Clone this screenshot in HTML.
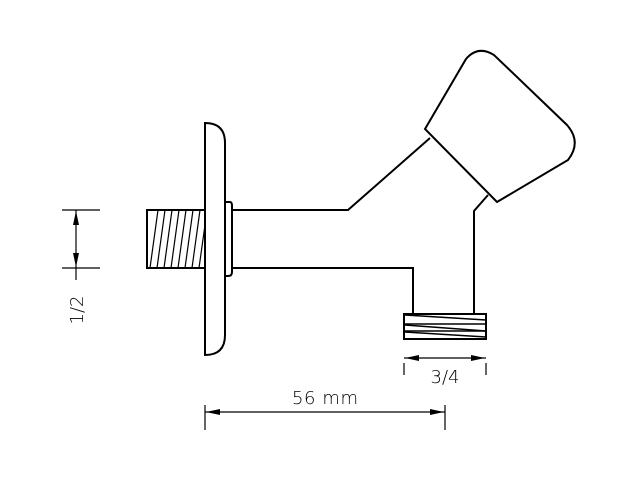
<!DOCTYPE html>
<html><head><meta charset="utf-8"><style>
html,body{margin:0;padding:0;background:#fff;width:640px;height:480px;overflow:hidden}
svg{display:block}
text{font-family:"DejaVu Sans","Liberation Sans",sans-serif;fill:#000;font-weight:300}
</style></head><body>
<svg width="640" height="480" viewBox="0 0 640 480" xmlns="http://www.w3.org/2000/svg">
<g fill="none" stroke="#000" stroke-width="2">
<rect x="147" y="210" width="58" height="58"/>
<g stroke-width="1.2">
<line x1="150" y1="268" x2="158" y2="210"/>
<line x1="157" y1="268" x2="165" y2="210"/>
<line x1="164" y1="268" x2="172" y2="210"/>
<line x1="171" y1="268" x2="179" y2="210"/>
<line x1="178" y1="268" x2="186" y2="210"/>
<line x1="185" y1="268" x2="193" y2="210"/>
<line x1="192" y1="268" x2="200" y2="210"/>
<line x1="199" y1="268" x2="205" y2="225"/>
</g>
<path d="M205,123 L205,355 Q225,355 225,335 L225,143 Q225,123 205,123 Z" fill="#fff"/>
<path d="M225,202 L230,202 Q232,202 232,206 L232,272 Q232,276 228,276 L225,276"/>
<polyline points="232,210 348,210 430,138"/>
<polyline points="232,268 413,268 413,314"/>
<polyline points="488,195 474,211 474,314"/>
<path d="M425,129 L466,59 Q478,45 494,55 L567,125 Q582,142 568,160 L497,202 Z" fill="#fff"/>
<rect x="404" y="314" width="82" height="25"/>
<g stroke-width="1.5">
<line x1="405" y1="315" x2="486" y2="320"/>
<line x1="405" y1="324" x2="486" y2="324"/>
<line x1="405" y1="325" x2="486" y2="331"/>
<line x1="405" y1="331" x2="486" y2="331"/>
<line x1="405" y1="332" x2="486" y2="337"/>
</g>
</g>
<g fill="none" stroke="#000" stroke-width="1.2">
<line x1="62" y1="210" x2="100" y2="210"/>
<line x1="62" y1="268" x2="100" y2="268"/>
<line x1="76" y1="210" x2="76" y2="280"/>
<line x1="404" y1="358" x2="486" y2="358"/>
<line x1="404" y1="363" x2="404" y2="375"/>
<line x1="486" y1="363" x2="486" y2="375"/>
<line x1="205" y1="412" x2="445" y2="412"/>
<line x1="205" y1="405" x2="205" y2="430"/>
<line x1="445" y1="405" x2="445" y2="430"/>
</g>
<g fill="#000">
<polygon points="76,211 73,225 79,225"/>
<polygon points="76,267 73,253 79,253"/>
<polygon points="405,358 419,355 419,361"/>
<polygon points="485,358 471,355 471,361"/>
<polygon points="206,412 220,409 220,415"/>
<polygon points="444,412 430,409 430,415"/>
</g>
<text x="325" y="404" font-size="18" text-anchor="middle" textLength="66">56 mm</text>
<text x="445" y="383" font-size="18" text-anchor="middle">3/4</text>
<text transform="translate(83,310) rotate(-90)" font-size="18" text-anchor="middle">1/2</text>
</svg>
</body></html>
